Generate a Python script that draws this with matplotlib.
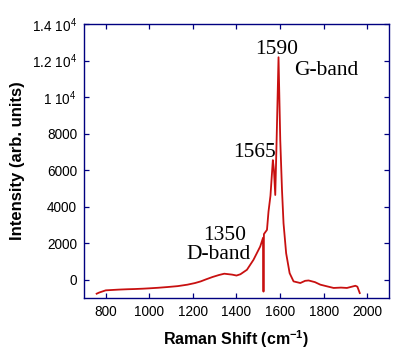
import matplotlib.pyplot as plt
from matplotlib.ticker import FuncFormatter

plt.rcParams["font.family"] = ["Liberation Sans", "DejaVu Sans"]
plt.rcParams["mathtext.default"] = "regular"

# Raman spectrum
shift = [758, 770, 800, 830, 860, 900, 930, 970, 1000, 1040, 1083, 1130, 1175,
         1210, 1236, 1260, 1290, 1320, 1344, 1380, 1400, 1418, 1448, 1478,
         1509, 1522, 1524, 1526, 1540, 1547, 1556, 1567, 1572, 1578, 1584,
         1593, 1601, 1609, 1616, 1628, 1644, 1662, 1693, 1715, 1731, 1760,
         1785, 1815, 1846, 1880, 1907, 1946, 1955, 1966]
intensity = [-765, -700, -580, -560, -540, -520, -510, -490, -470, -440, -400,
             -350, -270, -180, -90, 20, 150, 260, 330, 280, 230, 300, 545,
             1090, 1820, 2300, -650, 2500, 2730, 3730, 4600, 6550, 6000, 4640,
             7500, 12180, 7640, 4900, 3090, 1450, 360, -90, -180, -60, -40,
             -130, -270, -360, -450, -430, -450, -330, -380, -730]

y_ticks = [0, 2000, 4000, 6000, 8000, 10000, 12000, 14000]
x_ticks = [800, 1000, 1200, 1400, 1600, 1800, 2000]

# peak annotations: (text, x, y) in data coordinates
labels = [("1590", 1583, 12600), ("G-band", 1813, 11450),
          ("1565", 1482, 6980), ("1350", 1348, 2400), ("D-band", 1316, 1360)]


def y_fmt(v, pos):
    if v >= 10000:
        return f"{v / 10000:g}" + " 10$^4$"
    return f"{v:g}"


fig = plt.figure(figsize=(3.94, 3.53), dpi=100)
ax = fig.add_axes([0.2132, 0.1558, 0.774, 0.7762])
ax.plot(shift, intensity, color="#c81010", lw=1.3)

ax.set_xlim(700, 2100)
ax.set_ylim(-1000, 14000)
ax.set_xticks(x_ticks)
ax.set_yticks(y_ticks)
ax.yaxis.set_major_formatter(FuncFormatter(y_fmt))

navy = "#000080"
for sp in ax.spines.values():
    sp.set_color(navy)
    sp.set_linewidth(1.0)
ax.tick_params(direction="in", length=3.5, width=0.9, color=navy,
               top=True, right=True, labelsize=9.8, pad=5)

for txt, x, y in labels:
    ax.text(x, y, txt, ha="center", va="center", fontsize=15.5,
            family=["Liberation Serif", "DejaVu Serif"])

ax.set_xlabel("Raman Shift (cm$^{-1}$)", fontsize=11.5, fontweight="bold", labelpad=7)
ax.set_ylabel("Intensity (arb. units)", fontsize=12, fontweight="bold", labelpad=5)

fig.savefig("out.png", dpi=100)
